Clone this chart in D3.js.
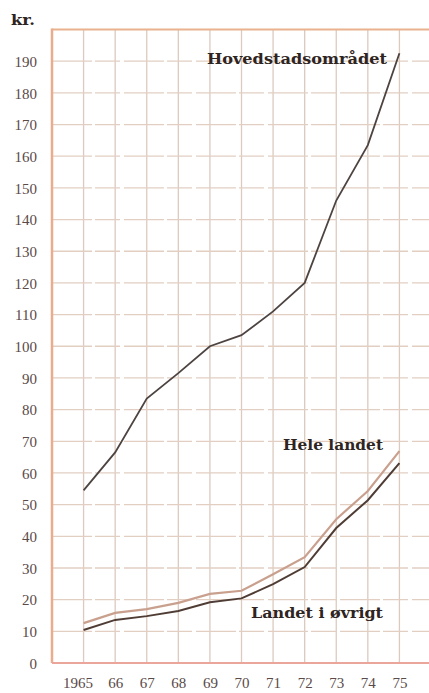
<!DOCTYPE html>
<html><head><meta charset="utf-8">
<script src="https://cdn.jsdelivr.net/npm/d3@7"></script>
<style>
html,body{margin:0;padding:0;background:#fff;}
svg{display:block;}
</style></head>
<body>
<svg id="c" width="429" height="693"></svg>
<script>
const years = [1965,1966,1967,1968,1969,1970,1971,1972,1973,1974,1975];
const yearLabels = ["1965","66","67","68","69","70","71","72","73","74","75"];
const hovedstad = [54.5,66.5,83.5,91.5,100,103.5,111,120,146,163.5,192.5];
const heleLandet = [12.6,15.8,17,19,21.8,22.8,28,33.4,45.4,54.3,66.9];
const oevrigt = [10.4,13.6,14.8,16.4,19.2,20.4,24.9,30.3,42.6,51.4,63.1];
const yTicks = [0,10,20,30,40,50,60,70,80,90,100,110,120,130,140,150,160,170,180,190];

const svg = d3.select("#c");
const x = d3.scaleLinear().domain([1964,1976]).range([52,431]);
const y = d3.scaleLinear().domain([0,200]).range([663,29.5]);

const grid = svg.append("g");
grid.selectAll("line.v").data(d3.range(1965,1977)).join("line")
  .attr("x1",d=>x(d)).attr("x2",d=>x(d)).attr("y1",y(200)).attr("y2",y(0))
  .attr("stroke","#dccabf").attr("stroke-width",1.3);
grid.selectAll("line.h").data(yTicks.filter(d=>d>0)).join("line")
  .attr("x1",x(1964)).attr("x2",429).attr("y1",d=>y(d)).attr("y2",d=>y(d))
  .attr("stroke","#e2cfc2").attr("stroke-width",1.3).attr("stroke-dasharray","40,3,25,4");
grid.append("line").attr("x1",x(1964)).attr("x2",429).attr("y1",y(200)).attr("y2",y(200))
  .attr("stroke","#eab28e").attr("stroke-width",2.2);
grid.append("line").attr("x1",x(1964)).attr("x2",x(1964)).attr("y1",y(200)-1).attr("y2",y(0))
  .attr("stroke","#e9ad8e").attr("stroke-width",2.5);
grid.append("line").attr("x1",x(1964)).attr("x2",429).attr("y1",y(0)).attr("y2",y(0))
  .attr("stroke","#eba69c").attr("stroke-width",2);

const yAxis = d3.axisLeft(y).tickValues(yTicks).tickSize(0).tickPadding(0).tickFormat(d=>String(d));
const ya = svg.append("g").attr("transform","translate(37,0)").call(yAxis);
ya.select(".domain").remove();
ya.selectAll("text").attr("font-family","Liberation Serif, serif").attr("font-size",15)
  .attr("fill","#5a4a48").attr("dy","0.35em");

const xAxis = d3.axisBottom(x).tickValues(years).tickSize(0).tickPadding(0)
  .tickFormat((d,i)=>yearLabels[i]);
const xa = svg.append("g").attr("transform","translate(0,683)").call(xAxis);
xa.select(".domain").remove();
xa.selectAll("text").attr("font-family","Liberation Serif, serif").attr("font-size",15)
  .attr("fill","#5a4a48").attr("dy","0.35em");
xa.selectAll(".tick").filter((d,i)=>i===0).select("text").attr("dx","-6");

const line = d3.line().x((d,i)=>x(years[i])).y(d=>y(d));
svg.append("path").datum(heleLandet).attr("d",line).attr("fill","none")
  .attr("stroke","#c9a08e").attr("stroke-width",2.2);
svg.append("path").datum(oevrigt).attr("d",line).attr("fill","none")
  .attr("stroke","#4f3d35").attr("stroke-width",2);
svg.append("path").datum(hovedstad).attr("d",line).attr("fill","none")
  .attr("stroke","#4d4441").attr("stroke-width",1.8);

const lab = (t,xx,yy,w)=>{
  const e = svg.append("text").text(t).attr("x",xx).attr("y",yy)
  .attr("font-family","DejaVu Serif, serif").attr("font-weight","bold")
  .attr("font-size",14.5).attr("fill","#2e2421");
  if (w) e.attr("textLength",w).attr("lengthAdjust","spacingAndGlyphs");
  return e;
};
lab("kr.",11,25,24);
lab("Hovedstadsområdet",207,64,180);
lab("Hele landet",283,450,100);
lab("Landet i øvrigt",251,618,132);
</script>
</body></html>
